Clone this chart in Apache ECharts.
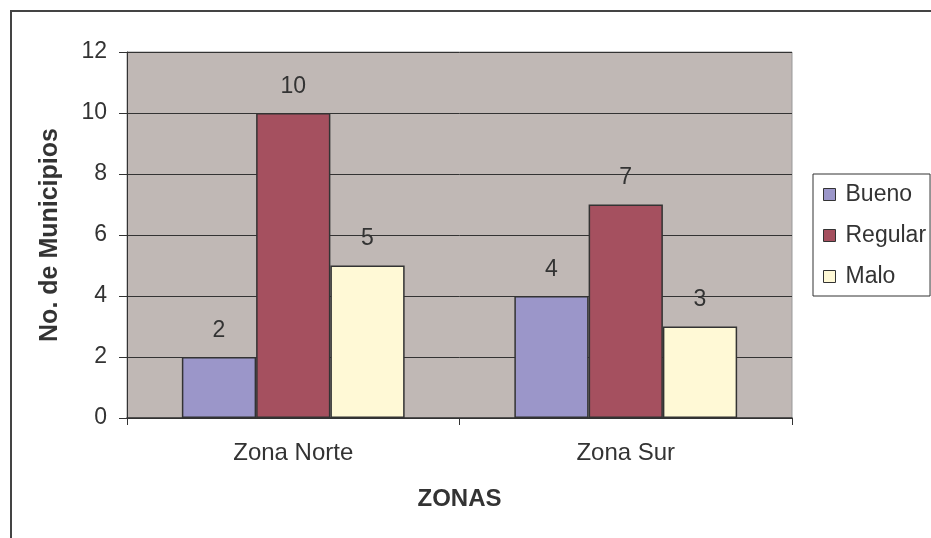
<!DOCTYPE html>
<html>
<head>
<meta charset="utf-8">
<script src="https://cdn.jsdelivr.net/npm/echarts@6/dist/echarts.min.js"></script>
<style>
  html, body { margin: 0; padding: 0; background: #fff; }
  #chart { width: 931px; height: 538px; }
</style>
</head>
<body>
<div id="chart"></div>
<script>
// datos del gráfico
var zonas = ['Zona Norte', 'Zona Sur'];
var bueno = [2, 4];
var regular = [10, 7];
var malo = [5, 3];
var yTicks = [0, 2, 4, 6, 8, 10, 12];

var myChart = echarts.init(document.getElementById('chart'));

var labelStyle = {
    show: true,
    position: 'top',
    distance: 15,
    fontFamily: 'Liberation Sans, Arial, sans-serif',
    fontSize: 23,
    color: '#333'
};

function serie(nombre, datos, color) {
    return {
        name: nombre,
        type: 'bar',
        data: datos,
        barGap: '0%',
        barCategoryGap: '33%',
        itemStyle: { color: color, borderColor: '#333', borderWidth: 1.5 },
        label: labelStyle
    };
}

var option = {
    animation: false,
    textStyle: { fontFamily: 'Liberation Sans, Arial, sans-serif' },
    graphic: [{
        type: 'rect',
        shape: { x: 11, y: 11, width: 940, height: 560 },
        style: { fill: 'none', stroke: '#444', lineWidth: 2 },
        silent: true
    }],
    grid: {
        left: 127, top: 52, right: 139, bottom: 120,
        show: true,
        backgroundColor: '#C0B8B5',
        borderColor: '#999',
        borderWidth: 1
    },
    legend: {
        orient: 'vertical',
        left: 813, top: 174,
        itemWidth: 12, itemHeight: 12,
        itemGap: 18,
        padding: [9, 4, 8, 10],
        borderColor: '#333', borderWidth: 1,
        icon: 'rect',
        itemStyle: { borderColor: '#333', borderWidth: 1 },
        textStyle: { fontSize: 23, color: '#333', padding: [0, 0, 0, 5] },
        data: ['Bueno', 'Regular', 'Malo']
    },
    xAxis: {
        type: 'category',
        data: zonas,
        name: 'ZONAS',
        nameLocation: 'middle',
        nameGap: 69,
        nameTextStyle: { fontSize: 24, fontWeight: 'bold', color: '#333' },
        axisLine: { lineStyle: { color: '#333', width: 1.5 } },
        axisTick: { show: true, length: 7, lineStyle: { color: '#333' } },
        axisLabel: { fontSize: 24, color: '#333', margin: 23 }
    },
    yAxis: {
        type: 'value',
        min: yTicks[0],
        max: yTicks[yTicks.length - 1],
        interval: 2,
        name: 'No. de Municipios',
        nameLocation: 'middle',
        nameGap: 64,
        nameTextStyle: { fontSize: 25, fontWeight: 'bold', color: '#333' },
        axisLine: { show: true, lineStyle: { color: '#333' } },
        axisTick: { show: true, length: 8, inside: false, lineStyle: { color: '#333' } },
        axisLabel: { fontSize: 23, color: '#333', margin: 20 },
        splitLine: { lineStyle: { color: '#333', width: 1 } }
    },
    series: [
        serie('Bueno', bueno, '#9B96C9'),
        serie('Regular', regular, '#A5505F'),
        serie('Malo', malo, '#FFF9D6')
    ]
};

myChart.setOption(option);
</script>
</body>
</html>
